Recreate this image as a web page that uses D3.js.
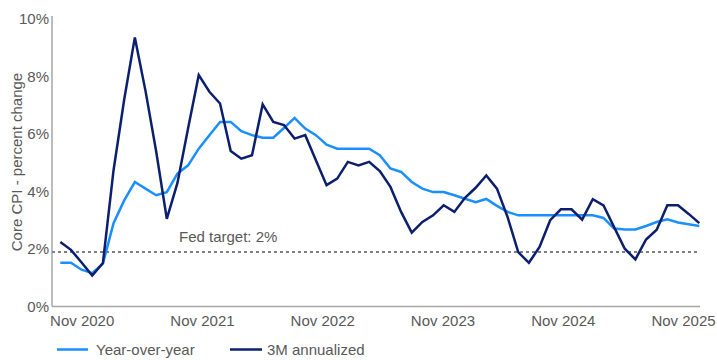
<!DOCTYPE html>
<html>
<head>
<meta charset="utf-8">
<script src="https://cdn.jsdelivr.net/npm/d3@7"></script>
<style>
  body { margin: 0; background: #fff; }
  svg text { font-family: "Liberation Sans", Arial, sans-serif; fill: #595959; }
</style>
</head>
<body>
<svg id="chart" width="717" height="360"></svg>
<script>
// monthly points, Nov 2020 onwards
const months = d3.timeMonth.range(new Date(2020, 10, 1), new Date(2025, 11, 1))
    .map(d3.timeFormat('%b %Y'));

const yoy = [1.52, 1.52, 1.28, 1.16, 1.49, 2.9, 3.69, 4.33, 4.1, 3.87,
    3.98, 4.62, 4.91, 5.49, 5.96, 6.42, 6.42, 6.1, 5.96, 5.87,
    5.87, 6.21, 6.56, 6.19, 5.96, 5.63, 5.49, 5.49, 5.49, 5.49,
    5.26, 4.8, 4.68, 4.33, 4.1, 3.98, 3.98, 3.87, 3.75, 3.63,
    3.74, 3.5, 3.29, 3.17, 3.17, 3.17, 3.17, 3.17, 3.17, 3.17,
    3.17, 3.08, 2.71, 2.68, 2.68, 2.8, 2.94, 3.03, 2.92, 2.86,
    2.8];

const threeMonth = [2.24, 1.97, 1.53, 1.08, 1.51, 4.74, 7.2, 9.36, 7.5, 5.4,
    3.05, 4.3, 6.2, 8.05, 7.47, 7.06, 5.41, 5.14, 5.26, 7.03,
    6.42, 6.31, 5.84, 5.96, 5.09, 4.22, 4.45, 5.03, 4.91, 5.03,
    4.71, 4.16, 3.29, 2.57, 2.94, 3.17, 3.52, 3.29, 3.78, 4.13,
    4.56, 4.1, 3.11, 1.89, 1.52, 2.07, 3.0, 3.38, 3.38, 3.02,
    3.73, 3.52, 2.76, 2.01, 1.64, 2.33, 2.67, 3.52, 3.52, 3.22,
    2.9];

const xTickLabels = ['Nov 2020', 'Nov 2021', 'Nov 2022', 'Nov 2023', 'Nov 2024', 'Nov 2025'];
const yTicks = [0, 2, 4, 6, 8, 10];
const targetLevel = 1.9; // dashed line as drawn in the source
const targetLabel = 'Fed target: 2%';

const series = [
    { name: 'Year-over-year', values: yoy, color: '#1a8fff' },
    { name: '3M annualized', values: threeMonth, color: '#0c1f6f' }
];

const svg = d3.select('#chart');

const x = d3.scalePoint().domain(months).range([60.3, 699.3]);
const xLabels = d3.scalePoint().domain(xTickLabels).range([81.7, 683]);
const y = d3.scaleLinear().domain([0, 10]).range([306.5, 19]);

// axes
svg.append('line')
    .attr('x1', 52).attr('x2', 52)
    .attr('y1', 16).attr('y2', y(0))
    .attr('stroke', '#a6a6a6').attr('stroke-width', 1.5);

svg.append('line')
    .attr('x1', 52).attr('x2', 700)
    .attr('y1', y(0)).attr('y2', y(0))
    .attr('stroke', '#a6a6a6').attr('stroke-width', 1.5);

const yAxis = svg.append('g')
    .attr('transform', 'translate(52,0)')
    .call(d3.axisLeft(y).tickValues(yTicks).tickSize(0).tickPadding(3)
        .tickFormat(d => d + '%'));
yAxis.select('.domain').remove();
yAxis.selectAll('text')
    .style('font-size', '15px')
    .attr('fill', '#595959');

const xAxis = svg.append('g')
    .attr('transform', 'translate(0,' + y(0) + ')')
    .call(d3.axisBottom(xLabels).tickSize(0).tickPadding(9));
xAxis.select('.domain').remove();
xAxis.selectAll('text')
    .style('font-size', '15px')
    .attr('fill', '#595959');

svg.append('text')
    .attr('transform', 'translate(22,162) rotate(-90)')
    .attr('text-anchor', 'middle')
    .style('font-size', '15px')
    .text('Core CPI - percent change');

// fed target
svg.append('line')
    .attr('x1', 52).attr('x2', 700)
    .attr('y1', y(targetLevel)).attr('y2', y(targetLevel))
    .attr('stroke', '#7f7f7f')
    .attr('stroke-width', 2)
    .attr('stroke-dasharray', '3,3');

svg.append('text')
    .attr('x', 179)
    .attr('y', 241.5)
    .style('font-size', '15px')
    .text(targetLabel);

// lines
const line = d3.line()
    .x((d, i) => x(months[i]))
    .y(d => y(d));

svg.selectAll('path.series')
    .data(series)
    .enter().append('path')
    .attr('class', 'series')
    .attr('fill', 'none')
    .attr('stroke', d => d.color)
    .attr('stroke-width', 2.5)
    .attr('stroke-linejoin', 'miter')
    .attr('d', d => line(d.values));

// legend
const legendPos = [{ x1: 57, x2: 88, tx: 96 }, { x1: 230, x2: 262, tx: 267 }];
const legend = svg.selectAll('g.legend')
    .data(series)
    .enter().append('g')
    .attr('class', 'legend');

legend.append('line')
    .attr('x1', (d, i) => legendPos[i].x1)
    .attr('x2', (d, i) => legendPos[i].x2)
    .attr('y1', 349.5).attr('y2', 349.5)
    .attr('stroke', d => d.color)
    .attr('stroke-width', 2.5);

legend.append('text')
    .attr('x', (d, i) => legendPos[i].tx)
    .attr('y', 355)
    .style('font-size', '15px')
    .text(d => d.name);
</script>
</body>
</html>
